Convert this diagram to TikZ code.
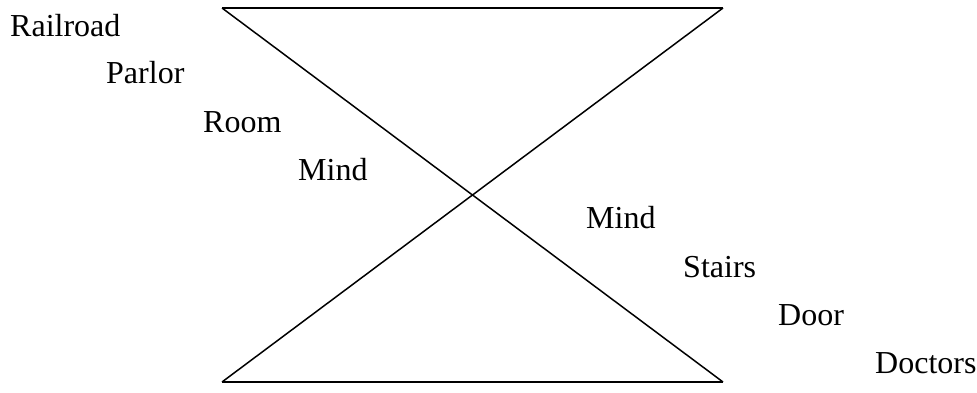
\documentclass[tikz,border=0pt]{standalone}
\usepackage{fontspec}
\setmainfont{Liberation Serif}
\usepackage{tikz}
\usetikzlibrary{positioning}
\tikzset{word/.style={anchor=base west,inner sep=0pt,font=\fontsize{32}{38}\selectfont},
    edge/.style={draw,line width=1.5pt,-}}

\begin{document}
\begin{tikzpicture}[x=1pt,y=-1pt]
    \useasboundingbox (0,0) rectangle (977,393);
    \coordinate (TL) at (222,8);
    \coordinate (TR) at (723,8);
    \coordinate (BL) at (222,382);
    \coordinate (BR) at (723,382);
    \foreach \pos/\name/\txt in {{(10,37)/Rail/Railroad}, {(106,84)/Parl/Parlor}, {(203,132)/Room/Room}, {(298,180)/MindA/Mind},
        {(586,228)/MindB/Mind}, {(683,277)/Stai/Stairs}, {(778,325)/Door/Door}, {(875,373)/Doct/Doctors}}
                \node[word] (\name) at \pos {\txt};

 \foreach \source/ \dest in {TL/TR, TR/BL, BL/BR, BR/TL}
              \path (\source) edge[edge] (\dest);
\end{tikzpicture}
\end{document}
